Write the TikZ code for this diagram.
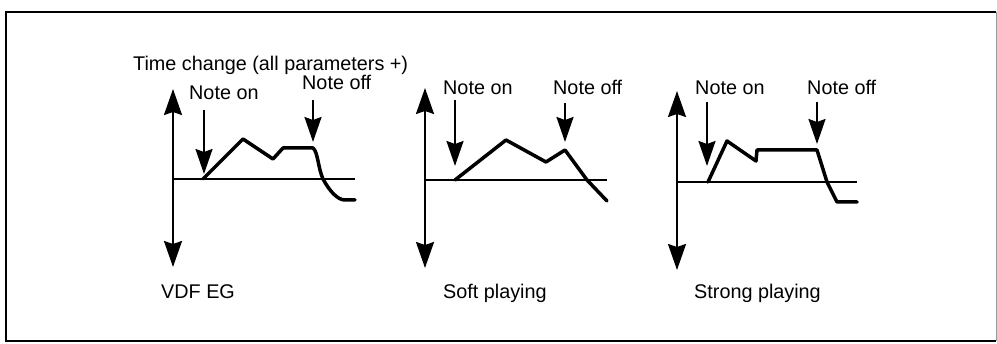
\documentclass[tikz,border=0pt]{standalone}
\usepackage{fontspec}
\setmainfont{Liberation Sans}
\usetikzlibrary{arrows.meta}
\begin{document}
\begin{tikzpicture}[x=1pt,y=-1pt,
  lbl/.style={anchor=base west,inner sep=0pt,font=\fontsize{19.8}{21}\selectfont},
  axis/.style={line width=2pt,{Stealth[length=26pt,width=18pt,inset=3pt]}-{Stealth[length=26pt,width=18pt,inset=3pt]}},
  marker/.style={line width=2pt,-{Stealth[length=25pt,width=17pt,inset=3pt]}},
  base/.style={line width=1.5pt},
  env/.style={line width=3.5pt,line join=round,line cap=round}]
\useasboundingbox (0,0) rectangle (997,344);
% frame
\draw[line width=1.5pt] (996,12) -- (6,12) -- (6,341) -- (996,341);
\draw[line width=1pt,black!40] (996,12) -- (996,341);

% ---------- panel 1
\node[lbl] (title) at (133,70.5) {Time change (all parameters +)};
\node[lbl] (on1) at (189,100) {Note on};
\node[lbl] (off1) at (302,89.5) {Note off};
\node[lbl] (cap1) at (161,299) {VDF EG};
\coordinate (a1t) at (173,89);
\coordinate (a1b) at (173,267);
\coordinate (b1s) at (173,179);
\coordinate (b1e) at (355,179);
\draw[axis] (a1b) -- (a1t);
\draw[base] (b1s) -- (b1e);
\draw[env] (203,179) -- (243,139) -- (273,159) -- (283,148) -- (313,148)
   .. controls (318,152) and (318,168) .. (323,179) .. controls (330,192) and (338,200) .. (345,200) -- (355,200);
\coordinate (n1s) at (204,110);
\coordinate (n1e) at (204,174);
\draw[marker] (n1s) -- (n1e);
\coordinate (f1s) at (313,100);
\coordinate (f1e) at (313,142);
\draw[marker] (f1s) -- (f1e);

% ---------- panel 2
\node[lbl] (on2) at (443,95) {Note on};
\node[lbl] (off2) at (553,95) {Note off};
\node[lbl] (cap2) at (443,299) {Soft playing};
\coordinate (a2t) at (425,88);
\coordinate (a2b) at (425,268);
\coordinate (b2s) at (425,180);
\coordinate (b2e) at (607,180);
\draw[axis] (a2b) -- (a2t);
\draw[base] (b2s) -- (b2e);
\draw[env] (455,180) -- (506,140) -- (546,162) -- (565,150) -- (587,180) -- (607,201);
\coordinate (n2s) at (455,100);
\coordinate (n2e) at (455,166);
\draw[marker] (n2s) -- (n2e);
\coordinate (f2s) at (565,103);
\coordinate (f2e) at (565,142);
\draw[marker] (f2s) -- (f2e);

% ---------- panel 3
\node[lbl] (on3) at (695,95) {Note on};
\node[lbl] (off3) at (807,95) {Note off};
\node[lbl] (cap3) at (694,299) {Strong playing};
\coordinate (a3t) at (677,91);
\coordinate (a3b) at (677,270);
\coordinate (b3s) at (677,182);
\coordinate (b3e) at (857,182);
\draw[axis] (a3b) -- (a3t);
\draw[base] (b3s) -- (b3e);
\draw[env] (708,182) -- (727,141) -- (756,161) -- (757,150) -- (817,150) -- (827,182) -- (837,202) -- (857,202);
\coordinate (n3s) at (707,102);
\coordinate (n3e) at (707,166);
\draw[marker] (n3s) -- (n3e);
\coordinate (f3s) at (817,102);
\coordinate (f3e) at (817,144);
\draw[marker] (f3s) -- (f3e);
\end{tikzpicture}
\end{document}
